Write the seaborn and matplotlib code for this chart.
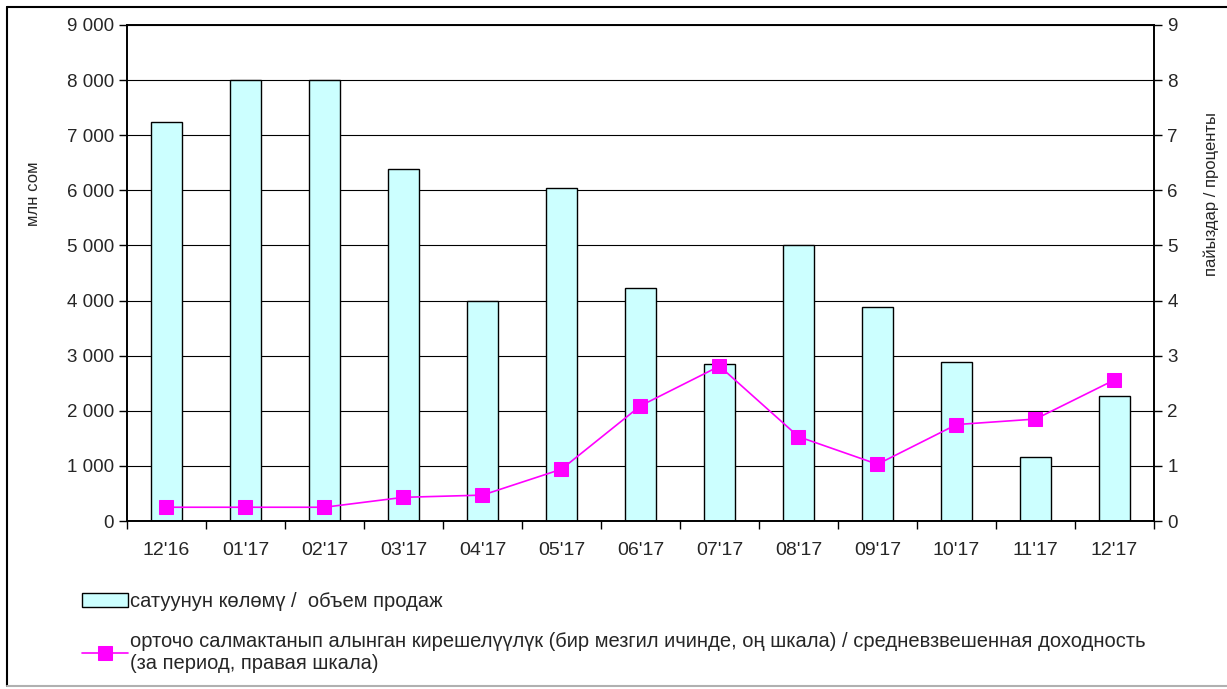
import numpy as np
import seaborn as sns
import matplotlib.pyplot as plt
from matplotlib.ticker import FuncFormatter, FixedLocator

months = ["12'16", "01'17", "02'17", "03'17", "04'17", "05'17", "06'17",
          "07'17", "08'17", "09'17", "10'17", "11'17", "12'17"]
sales = [7240, 8000, 8000, 6390, 4000, 6050, 4230, 2840, 5000, 3890, 2890, 1170, 2270]
yield_pct = [0.25, 0.25, 0.25, 0.43, 0.47, 0.94, 2.09, 2.81, 1.53, 1.03, 1.75, 1.85, 2.56]

bar_label = "сатуунун көлөмү /  объем продаж"
line_label = ("орточо салмактанып алынган кирешелүүлүк (бир мезгил ичинде, оң шкала) / "
              "средневзвешенная доходность\n(за период, правая шкала)")

sns.set_style("white")
plt.rcParams['font.family'] = ['Liberation Sans', 'DejaVu Sans']

fig = plt.figure(figsize=(12.27, 6.89), dpi=100)
ax = fig.add_axes([0.1035, 0.2438, 0.837, 0.72])

sns.barplot(x=months, y=sales, color="#CCFFFF", saturation=1, edgecolor="black",
            linewidth=1, width=0.39, ax=ax, label=bar_label, zorder=2)
if ax.get_legend() is not None:
    ax.get_legend().remove()
ax.set_ylim(0, 9000)
ax.set_xlim(-0.5, len(months) - 0.5)
ax.set_yticks(np.arange(0, 9001, 1000))
ax.yaxis.set_major_formatter(FuncFormatter(lambda v, p: f"{int(v):,}".replace(",", " ")))
ax.grid(axis="y", color="black", linewidth=0.8, zorder=0)
ax.set_axisbelow(True)
ax.set_ylabel("млн сом", fontsize=12)
ax.yaxis.set_label_coords(-0.084, 0.66)
ax.set_xlabel("")
ax.tick_params(axis="y", labelsize=13.5, direction="out", length=6, width=1, left=True, color="black")
ax.tick_params(axis="x", which="major", labelsize=14, length=0, pad=15)
ax.xaxis.set_minor_locator(FixedLocator(np.arange(-0.5, len(months), 1)))
ax.tick_params(axis="x", which="minor", bottom=True, direction="out", length=6, width=1, color="black")
for s in ax.spines.values():
    s.set_color("black")
    s.set_linewidth(1.2)

ax2 = ax.twinx()
sns.lineplot(x=np.arange(len(months)), y=yield_pct, color="#FF00FF", marker="s",
             markersize=10, markeredgecolor="#FF00FF", linewidth=1.2, ax=ax2,
             label=line_label, legend=False)
ax2.set_ylim(0, 9)
ax2.set_yticks(np.arange(0, 10, 1))
ax2.set_ylabel("пайыздар / проценты", fontsize=12)
ax2.yaxis.set_label_coords(1.048, 0.66)
ax2.tick_params(axis="y", labelsize=13.5, direction="out", length=6, width=1, right=True, color="black")
ax2.grid(False)
for s in ax2.spines.values():
    s.set_color("black")
    s.set_linewidth(1.2)

h1, l1 = ax.get_legend_handles_labels()
h2, l2 = ax2.get_legend_handles_labels()
fig.legend(h1 + h2, l1 + l2, loc="upper left", bbox_to_anchor=(0.052, 0.167),
           frameon=False, fontsize=14.5, handlelength=2.3, handletextpad=0.1,
           labelspacing=1.05)

# outer frame
fig.add_artist(plt.Line2D([0.006, 0.006], [0.004, 0.99], color="black", lw=1.5, transform=fig.transFigure))
fig.add_artist(plt.Line2D([0.006, 1.0], [0.99, 0.99], color="black", lw=1.5, transform=fig.transFigure))
fig.add_artist(plt.Line2D([0.006, 1.0], [0.004, 0.004], color="#b0b0b0", lw=1.5, transform=fig.transFigure))

fig.savefig("out.png", dpi=100)
